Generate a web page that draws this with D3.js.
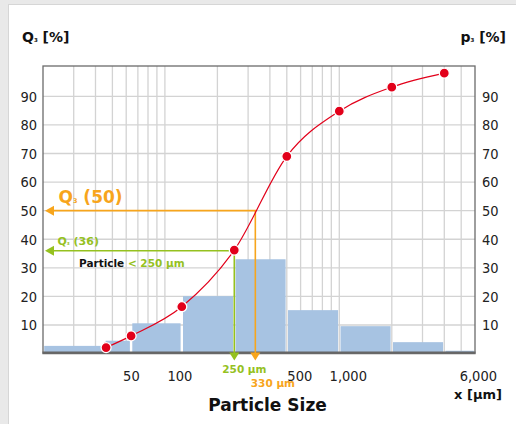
<!DOCTYPE html>
<html><head><meta charset="utf-8">
<script src="https://cdn.jsdelivr.net/npm/d3@7"></script>
<style>html,body{margin:0;padding:0;background:#e9e9e9;}svg{display:block;font-family:"DejaVu Sans",Verdana,sans-serif;}</style>
</head><body>
<script>
// ---- data ----
const binEdges = [20, 45, 64, 125, 250, 500, 1000, 2000, 4000, 6000];
const p3Values = [2.7, 4.5, 10.6, 20.1, 33.0, 15.2, 9.6, 4.0, 1.0];
const q3Sizes = [46, 64, 125, 250, 500, 1000, 2000, 4000];
const q3Values = [2.1, 6.2, 16.4, 36.2, 69.0, 84.8, 93.2, 98.1];
const yTicks = [10, 20, 30, 40, 50, 60, 70, 80, 90];
const xTickValues = [50, 100, 500, 1000, 6000];
const xTickLabels = ["50", "100", "500", "1,000", "6,000"];
const xTickDx = [19, 15, 13, 9, 22];
const markers = [{size: 250, q: 36, label: "250 μm", color: "#95c11f"}, {size: 330, q: 50, label: "330 μm", color: "#f7a51c"}];

const W = 516, H = 424;
const svg = d3.select("body").append("svg").attr("width", W).attr("height", H);

// card
svg.append("rect").attr("x", 0).attr("y", 0).attr("width", W).attr("height", H).attr("fill", "#e9e9e9");
svg.append("rect").attr("x", 8.5).attr("y", 4.5).attr("width", W).attr("height", H).attr("fill", "#fff").attr("stroke", "#d6d6d6");

const x = d3.scaleLog().domain([20, 6000]).range([43, 475]);
const y = d3.scaleLinear().domain([0, 100.6]).range([353.6, 66]);

const RED = "#e2001a", BAR = "#a7c3e2", GRID = "#d3d3d3";
const TICKFONT = "'DejaVu Sans Condensed','DejaVu Sans',sans-serif";

// grid
const minor = [];
[10, 100, 1000].forEach(d => { for (let k = 1; k <= 9; k++) minor.push(d * k); });
const vgrid = minor.filter(v => v > 20 && v < 6000);
svg.append("g").selectAll("line").data(vgrid).join("line")
  .attr("x1", d => x(d)).attr("x2", d => x(d)).attr("y1", y.range()[1]).attr("y2", y(0))
  .attr("stroke", GRID).attr("stroke-width", 1.3);
svg.append("g").selectAll("line").data(yTicks).join("line")
  .attr("x1", 43).attr("x2", 475).attr("y1", d => y(d)).attr("y2", d => y(d))
  .attr("stroke", GRID).attr("stroke-width", 1.3);

// bars
const bins = p3Values.map((v, i) => ({lo: binEdges[i], hi: binEdges[i + 1], v}));
svg.append("g").selectAll("rect").data(bins).join("rect")
  .attr("x", d => x(d.lo) + 1.2).attr("width", d => x(d.hi) - x(d.lo) - 2.4)
  .attr("y", d => y(d.v)).attr("height", d => y(0) - y(d.v))
  .attr("fill", BAR);

// frame
svg.append("rect").attr("x", x(20)).attr("y", y.range()[1]).attr("width", x(6000) - x(20)).attr("height", y(0) - y.range()[1])
  .attr("fill", "none").attr("stroke", "#6b6b6b").attr("stroke-width", 1.3);
svg.append("line").attr("x1", x(20) - 0.5).attr("x2", x(6000) + 0.5).attr("y1", y(0) - 1).attr("y2", y(0) - 1)
  .attr("stroke", "#666").attr("stroke-width", 2);

// reference lines
markers.forEach(m => {
  const g = svg.append("g");
  g.append("path").attr("d", `M${x(20) + 6},${y(m.q)}H${x(m.size)}V${y(0) + 1}`)
    .attr("fill", "none").attr("stroke", m.color).attr("stroke-width", 1.6);
  const lx = x(20) + 2, ly = y(m.q);
  g.append("path").attr("d", `M${lx},${ly}L${lx + 9},${ly - 5}L${lx + 9},${ly + 5}Z`).attr("fill", m.color);
  const bx = x(m.size), by = y(0) - 1;
  g.append("path").attr("d", `M${bx - 5},${by}L${bx + 5},${by}L${bx},${by + 8}Z`).attr("fill", m.color);
});

// curve
const pts = q3Sizes.map((s, i) => [x(s), y(q3Values[i])]);
svg.append("path").attr("d", d3.line().curve(d3.curveMonotoneX)(pts))
  .attr("fill", "none").attr("stroke", RED).attr("stroke-width", 1.2);
svg.append("g").selectAll("circle").data(pts).join("circle")
  .attr("cx", d => d[0]).attr("cy", d => d[1]).attr("r", 5)
  .attr("fill", RED).attr("stroke", "#fff").attr("stroke-width", 1.3);

// y tick labels
svg.append("g").selectAll("text").data(yTicks).join("text")
  .attr("x", 37).attr("y", d => y(d) + 5.3).attr("text-anchor", "end").attr("font-family", TICKFONT)
  .attr("font-size", 14.5).attr("fill", "#222").text(d => d);
svg.append("g").selectAll("text").data(yTicks).join("text")
  .attr("x", 482).attr("y", d => y(d) + 5.3).attr("text-anchor", "start").attr("font-family", TICKFONT)
  .attr("font-size", 14.5).attr("fill", "#222").text(d => d);

// x tick labels
svg.append("g").selectAll("text").data(xTickValues).join("text")
  .attr("x", (d, i) => x(d) + xTickDx[i]).attr("y", 380.5).attr("font-family", TICKFONT)
  .attr("text-anchor", (d, i) => i === xTickValues.length - 1 ? "end" : "middle")
  .attr("font-size", 14.5).attr("fill", "#222").text((d, i) => xTickLabels[i]);

// marker labels under axis
svg.append("text").attr("x", x(250) - 12).attr("y", 373).attr("font-size", 10.5).attr("font-weight", "bold")
  .attr("fill", markers[0].color).text(markers[0].label);
svg.append("text").attr("x", x(330) - 4.5).attr("y", 387).attr("font-size", 10.5).attr("font-weight", "bold")
  .attr("fill", markers[1].color).text(markers[1].label);

// Q3 labels
function q3Label(xp, yp, size, color, val) {
  const t = svg.append("text").attr("x", xp).attr("y", yp).attr("font-size", size).attr("font-weight", "bold").attr("fill", color);
  t.append("tspan").text("Q");
  t.append("tspan").attr("font-size", size * 0.38).text("3");
  t.append("tspan").attr("font-size", size).text(" (" + val + ")");
}
q3Label(58.5, 203, 17, markers[1].color, 50);
q3Label(57.5, 244.5, 11, markers[0].color, 36);

const pt = svg.append("text").attr("x", 79).attr("y", 266.5).attr("font-size", 10.5).attr("font-weight", "bold");
pt.append("tspan").attr("fill", "#111").text("Particle ");
pt.append("tspan").attr("fill", markers[0].color).text("< 250 μm");

// axis titles
function unitTitle(xp, anchor, letter) {
  const t = svg.append("text").attr("x", xp).attr("y", 42).attr("font-size", 14).attr("font-weight", "bold").attr("fill", "#111").attr("text-anchor", anchor);
  t.append("tspan").text(letter);
  t.append("tspan").attr("font-size", 5.5).text("3");
  t.append("tspan").attr("font-size", 14).text(" [%]");
}
unitTitle(22, "start", "Q");
unitTitle(506, "end", "p");

svg.append("text").attr("x", 267.5).attr("y", 411).attr("text-anchor", "middle")
  .attr("font-size", 17).attr("font-weight", "bold").attr("fill", "#111").text("Particle Size");
svg.append("text").attr("x", 502).attr("y", 399).attr("text-anchor", "end")
  .attr("font-size", 13).attr("font-weight", "bold").attr("fill", "#111").text("x [μm]");
</script>
</body></html>
